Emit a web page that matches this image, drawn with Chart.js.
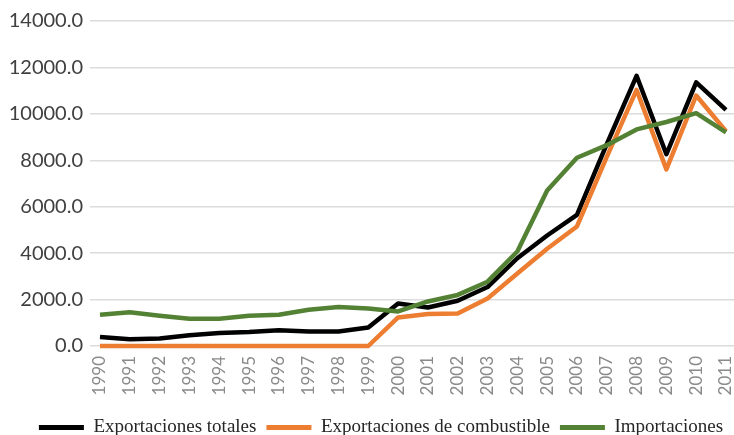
<!DOCTYPE html>
<html>
<head>
<meta charset="utf-8">
<script src="https://cdn.jsdelivr.net/npm/chart.js@4"></script>
<style>
  html, body { margin: 0; padding: 0; background: #ffffff; }
  #wrap { width: 734px; height: 435px; position: relative; }
</style>
</head>
<body>
<div id="wrap"><canvas id="c" width="734" height="435"></canvas></div>
<script>
const years = [1990,1991,1992,1993,1994,1995,1996,1997,1998,1999,2000,2001,2002,2003,2004,2005,2006,2007,2008,2009,2010,2011];
const exportacionesTotales = [390,290,320,460,560,600,675,628,628,800,1830,1660,1950,2540,3780,4760,5650,8700,11640,8260,11360,10170];
const exportacionesCombustible = [0,0,0,0,0,0,0,0,0,0,1230,1375,1400,2050,3120,4190,5150,8150,11030,7610,10790,9250];
const importaciones = [1350,1450,1300,1175,1175,1300,1350,1560,1680,1620,1490,1920,2200,2770,4070,6700,8110,8650,9330,9650,10030,9200];
const seriesNames = ["Exportaciones totales", "Exportaciones de combustible", "Importaciones"];
const yTicks = [0,2000,4000,6000,8000,10000,12000,14000];

const toPts = arr => arr.map((v, i) => ({x: years[i], y: v}));

const legendShift = {
  id: 'legendShift',
  afterLayout(chart) {
    const lg = chart.legend;
    if (!lg) return;
    const dx = 14, dy = 12;
    lg.left += dx; lg.right += dx;
    lg.top += dy; lg.bottom += dy;
  }
};

new Chart(document.getElementById('c'), {
  type: 'line',
  data: {
    datasets: [
      { label: seriesNames[0], data: toPts(exportacionesTotales), borderColor: '#000000', backgroundColor: '#000000', order: 2, clip: 6 },
      { label: seriesNames[1], data: toPts(exportacionesCombustible), borderColor: '#ED7D31', backgroundColor: '#ED7D31', order: 1, clip: 6 },
      { label: seriesNames[2], data: toPts(importaciones), borderColor: '#548235', backgroundColor: '#548235', order: 0, clip: 6 }
    ]
  },
  options: {
    responsive: false,
    animation: false,
    devicePixelRatio: 1,
    layout: { padding: { top: 21, left: 0, right: 0, bottom: 0 } },
    elements: {
      line: { borderWidth: 4.5, tension: 0, borderJoinStyle: 'round', borderCapStyle: 'butt' },
      point: { radius: 0, hoverRadius: 0 }
    },
    scales: {
      x: {
        type: 'linear',
        min: 1989.665,
        max: 2011.268,
        afterBuildTicks: s => { s.ticks = years.map(v => ({ value: v })); },
        afterFit: s => { s.height = 50; s.paddingLeft = 0; s.paddingRight = 0; },
        grid: { display: false, drawTicks: false },
        border: { display: false },
        ticks: {
          autoSkip: false,
          minRotation: 90,
          maxRotation: 90,
          padding: 10,
          color: '#8a8a8a',
          font: { family: 'Lato', size: 17 },
          callback: v => String(v)
        }
      },
      y: {
        min: 0,
        max: 14000,
        afterBuildTicks: s => { s.ticks = yTicks.map(v => ({ value: v })); },
        afterFit: s => { s.width = 90; s.paddingTop = 0; s.paddingBottom = 0; },
        grid: { color: '#dcdcdc', lineWidth: 1.5, drawTicks: false },
        border: { display: false },
        ticks: {
          padding: 7,
          color: '#404040',
          font: { family: 'Lato', size: 20 },
          callback: v => Number(v).toFixed(1)
        }
      }
    },
    plugins: {
      tooltip: { enabled: false },
      legend: {
        position: 'bottom',
        labels: {
          boxWidth: 45,
          boxHeight: 5,
          padding: 10,
          color: '#262626',
          font: { family: 'Liberation Serif', size: 19 },
          sort: (a, b) => a.datasetIndex - b.datasetIndex,
          generateLabels: chart => Chart.defaults.plugins.legend.labels.generateLabels(chart)
            .map(it => Object.assign(it, { lineWidth: 0 }))
        }
      }
    }
  },
  plugins: [legendShift]
});
</script>
</body>
</html>
